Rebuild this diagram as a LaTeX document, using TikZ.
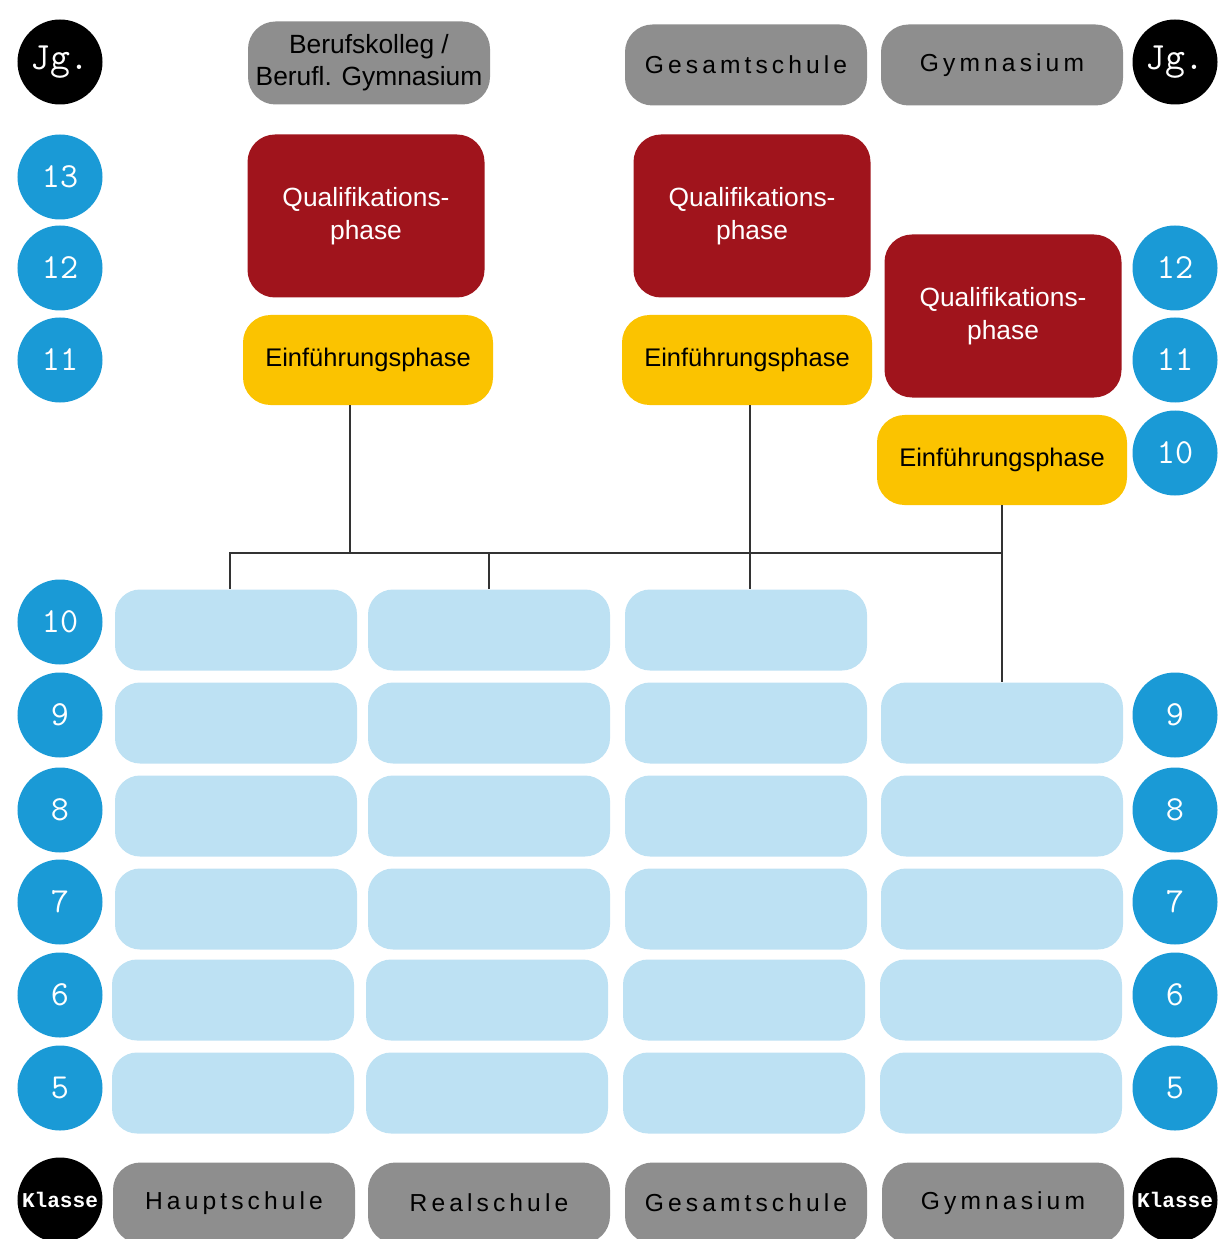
\documentclass[tikz,border=0pt]{standalone}
\usepackage{fontspec}
\setmainfont{Liberation Sans}
\newfontfamily\klfont{Liberation Mono}
\definecolor{jgblue}{HTML}{1A9AD6}
\definecolor{klblue}{HTML}{BDE1F3}
\definecolor{qred}{HTML}{A0141C}
\definecolor{eyellow}{HTML}{FBC300}
\definecolor{sgrey}{HTML}{8E8E8E}
\begin{document}
\begin{tikzpicture}[x=0.2cm, y=-0.2cm,
  jg/.style={circle, fill=jgblue, text=white, minimum size=1.7cm, inner sep=0, font=\fontsize{20}{20}\selectfont\ttfamily},
  lab/.style={circle, fill=black, text=white, minimum size=1.7cm, inner sep=0},
  klbox/.style={rectangle, rounded corners=0.5cm, fill=klblue, minimum width=4.84cm, minimum height=1.62cm, inner sep=0},
  sbox/.style={rectangle, rounded corners=0.55cm, fill=sgrey, minimum width=4.84cm, minimum height=1.62cm, inner sep=0, font=\fontsize{14}{16}\selectfont},
  qbox/.style={rectangle, rounded corners=0.55cm, fill=qred, text=white, minimum width=4.74cm, minimum height=3.26cm, inner sep=0, align=center, font=\fontsize{15}{19}\selectfont},
  ebox/.style={rectangle, rounded corners=0.55cm, fill=eyellow, minimum width=5.0cm, minimum height=1.8cm, inner sep=0, font=\fontsize{14.5}{16}\selectfont},
  link/.style={draw=black!80, line width=1.6pt}]
\useasboundingbox (0,0) rectangle (123.1,123.9);
\node[lab, font=\fontsize{22}{22}\selectfont\ttfamily] (jgl) at (6,6.2){Jg.};
\node[lab, font=\fontsize{22}{22}\selectfont\ttfamily] (jgr) at (117.5,6.2){Jg.};
\node[lab, font=\fontsize{12}{12}\selectfont\klfont\bfseries] (kll) at (6,120){Klasse};
\node[lab, font=\fontsize{12}{12}\selectfont\klfont\bfseries] (klr) at (117.5,120){Klasse};
\node[jg] (l13) at (6,17.7){13};
\node[jg] (l12) at (6,26.8){12};
\node[jg] (l11) at (6,36){11};
\node[jg] (l10) at (6,62.2){10};
\node[jg] (l9) at (6,71.5){9};
\node[jg] (l8) at (6,81){8};
\node[jg] (l7) at (6,90.2){7};
\node[jg] (l6) at (6,99.5){6};
\node[jg] (l5) at (6,108.8){5};
\node[jg] (r12) at (117.5,26.8){12};
\node[jg] (r11) at (117.5,36){11};
\node[jg] (r10) at (117.5,45.3){10};
\node[jg] (r9) at (117.5,71.5){9};
\node[jg] (r8) at (117.5,81){8};
\node[jg] (r7) at (117.5,90.2){7};
\node[jg] (r6) at (117.5,99.5){6};
\node[jg] (r5) at (117.5,108.8){5};
\node[sbox, align=center, minimum height=1.66cm, font=\fontsize{15}{18}\selectfont] (bk) at (36.9,6.3){Berufskolleg /\\Berufl. Gymnasium};
\node[sbox] (gestop) at (74.6,6.5){G\,e\,s\,a\,m\,t\,s\,c\,h\,u\,l\,e};
\node[sbox] (gymtop) at (100.2,6.5){G\,y\,m\,n\,a\,s\,i\,u\,m};
\node[sbox] (haupt) at (23.4,120.3){H\,a\,u\,p\,t\,s\,c\,h\,u\,l\,e};
\node[sbox] (real) at (48.9,120.3){R\,e\,a\,l\,s\,c\,h\,u\,l\,e};
\node[sbox] (gesbot) at (74.6,120.3){G\,e\,s\,a\,m\,t\,s\,c\,h\,u\,l\,e};
\node[sbox] (gymbot) at (100.3,120.3){G\,y\,m\,n\,a\,s\,i\,u\,m};
\node[qbox] (q1) at (36.6,21.6){Qualifikations-\\phase};
\node[qbox] (q3) at (75.2,21.6){Qualifikations-\\phase};
\node[qbox] (q4) at (100.3,31.6){Qualifikations-\\phase};
\node[ebox] (e1) at (36.8,36){Einführungsphase};
\node[ebox] (e3) at (74.7,36){Einführungsphase};
\node[ebox] (e4) at (100.2,46){Einführungsphase};
\node[klbox] (h10) at (23.6,63){};
\node[klbox] (h9) at (23.6,72.3){};
\node[klbox] (h8) at (23.6,81.6){};
\node[klbox] (h7) at (23.6,90.9){};
\node[klbox] (h6) at (23.3,100){};
\node[klbox] (h5) at (23.3,109.3){};
\node[klbox] (re10) at (48.9,63){};
\node[klbox] (re9) at (48.9,72.3){};
\node[klbox] (re8) at (48.9,81.6){};
\node[klbox] (re7) at (48.9,90.9){};
\node[klbox] (re6) at (48.7,100){};
\node[klbox] (re5) at (48.7,109.3){};
\node[klbox] (g10) at (74.6,63){};
\node[klbox] (g9) at (74.6,72.3){};
\node[klbox] (g8) at (74.6,81.6){};
\node[klbox] (g7) at (74.6,90.9){};
\node[klbox] (g6) at (74.4,100){};
\node[klbox] (g5) at (74.4,109.3){};
\node[klbox] (y9) at (100.2,72.3){};
\node[klbox] (y8) at (100.2,81.6){};
\node[klbox] (y7) at (100.2,90.9){};
\node[klbox] (y6) at (100.1,100){};
\node[klbox] (y5) at (100.1,109.3){};
\coordinate (bar) at (0,55.3);
\draw[link]([xshift=-0.36cm]e1.south) -- ([xshift=-0.36cm]e1.south |- bar);
\draw[link]([xshift=-0.12cm]h10.north) |- (e4.south |- bar);
\draw[link](re10.north) -- (re10.north |- bar);
\draw[link]([xshift=0.06cm]e3.south) -- ([xshift=0.06cm]e3.south |- g10.north);
\draw[link](e4.south) -- (y9.north);
\end{tikzpicture}
\end{document}
